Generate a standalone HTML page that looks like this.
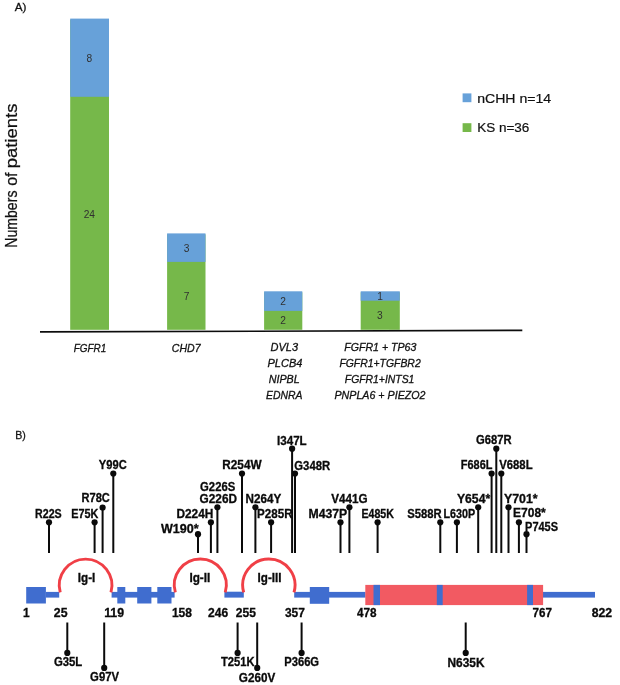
<!DOCTYPE html>
<html><head><meta charset="utf-8"><title>Figure</title>
<style>
html,body{margin:0;padding:0;background:#fff;}
body{width:620px;height:685px;overflow:hidden;font-family:"Liberation Sans",sans-serif;}
svg{display:block;will-change:transform;filter:blur(0.45px);}
text{font-family:"Liberation Sans",sans-serif;}
.b{font-weight:bold;font-size:11.9px;fill:#0a0a0a;stroke:#0a0a0a;stroke-width:0.3px;}
.i{font-style:italic;font-size:11.4px;fill:#111;stroke:#111;stroke-width:0.3px;}
.n{font-size:10.2px;fill:#303030;}
</style></head><body>
<svg width="620" height="685" viewBox="0 0 620 685">
<rect width="620" height="685" fill="#fff"/>

<text class="" x="14.8" y="10.7" textLength="11.7" lengthAdjust="spacingAndGlyphs" font-size="11.5" fill="#111" stroke="#111" stroke-width="0.3">A)</text>
<rect x="70.2" y="19.6" width="38.8" height="310.2" fill="#76b84a"/>
<rect x="70.2" y="18.6" width="38.8" height="78.2" fill="#67a1d9"/>
<rect x="167.1" y="234.4" width="38.4" height="95.4" fill="#76b84a"/>
<rect x="167.1" y="233.4" width="38.4" height="28.5" fill="#67a1d9"/>
<rect x="264.1" y="292.3" width="38.2" height="37.5" fill="#76b84a"/>
<rect x="264.1" y="291.3" width="38.2" height="19.6" fill="#67a1d9"/>
<rect x="360.7" y="292.3" width="39.1" height="37.5" fill="#76b84a"/>
<rect x="360.7" y="291.3" width="39.1" height="9.4" fill="#67a1d9"/>
<line x1="40" y1="331.9" x2="522.3" y2="330.4" stroke="#0c0c0c" stroke-width="1.7"/>
<text class="n" x="89.4" y="61.9" text-anchor="middle">8</text>
<text class="n" x="89.3" y="217.6" text-anchor="middle">24</text>
<text class="n" x="186.5" y="252" text-anchor="middle">3</text>
<text class="n" x="186.5" y="299.8" text-anchor="middle">7</text>
<text class="n" x="283.1" y="304.8" text-anchor="middle">2</text>
<text class="n" x="283.1" y="324.2" text-anchor="middle">2</text>
<text class="n" x="380.1" y="299.5" text-anchor="middle">1</text>
<text class="n" x="379.9" y="319.1" text-anchor="middle">3</text>
<text transform="translate(17.4,247.8) rotate(-90)" font-size="15.6" fill="#111" stroke="#111" stroke-width="0.25" textLength="57.3" lengthAdjust="spacingAndGlyphs">Numbers</text>
<text transform="translate(17.4,185.8) rotate(-90)" font-size="15.6" fill="#111" stroke="#111" stroke-width="0.25" textLength="13.3" lengthAdjust="spacingAndGlyphs">of</text>
<text transform="translate(17.4,168.3) rotate(-90)" font-size="15.6" fill="#111" stroke="#111" stroke-width="0.25" textLength="64.8" lengthAdjust="spacingAndGlyphs">patients</text>
<rect x="462.6" y="93.4" width="8.8" height="8.8" fill="#67a1d9"/>
<rect x="462.6" y="123.2" width="8.8" height="8.8" fill="#76b84a"/>
<text class="" x="477.2" y="102.5" textLength="74.0" lengthAdjust="spacingAndGlyphs" font-size="13.2" fill="#111" stroke="#111" stroke-width="0.2">nCHH n=14</text>
<text class="" x="477.2" y="132.2" textLength="52.2" lengthAdjust="spacingAndGlyphs" font-size="13.2" fill="#111" stroke="#111" stroke-width="0.2">KS n=36</text>
<text class="i" x="73.7" y="351.5" textLength="32.6" lengthAdjust="spacingAndGlyphs">FGFR1</text>
<text class="i" x="171.8" y="351.5" textLength="28.7" lengthAdjust="spacingAndGlyphs">CHD7</text>
<text class="i" x="270.6" y="351.3" textLength="27.5" lengthAdjust="spacingAndGlyphs">DVL3</text>
<text class="i" x="267.5" y="366.9" textLength="34.9" lengthAdjust="spacingAndGlyphs">PLCB4</text>
<text class="i" x="268.7" y="382.7" textLength="31.0" lengthAdjust="spacingAndGlyphs">NIPBL</text>
<text class="i" x="266.0" y="398.6" textLength="36.4" lengthAdjust="spacingAndGlyphs">EDNRA</text>
<text class="i" x="344.2" y="351.2" textLength="72.2" lengthAdjust="spacingAndGlyphs">FGFR1 + TP63</text>
<text class="i" x="339.4" y="366.9" textLength="81.3" lengthAdjust="spacingAndGlyphs">FGFR1+TGFBR2</text>
<text class="i" x="344.8" y="382.8" textLength="69.6" lengthAdjust="spacingAndGlyphs">FGFR1+INTS1</text>
<text class="i" x="334.5" y="398.8" textLength="91.0" lengthAdjust="spacingAndGlyphs">PNPLA6 + PIEZO2</text>
<text class="" x="15.2" y="439.4" textLength="10.6" lengthAdjust="spacingAndGlyphs" font-size="11.5" fill="#111" stroke="#111" stroke-width="0.3">B)</text>
<rect x="26.2" y="587.0" width="19.7" height="16.5" fill="#406dcf"/>
<rect x="45.9" y="591.9" width="13.3" height="5.7" fill="#406dcf"/>
<rect x="111.6" y="591.9" width="63.0" height="5.7" fill="#406dcf"/>
<rect x="117.3" y="587.0" width="8.0" height="16.5" fill="#406dcf"/>
<rect x="137.2" y="587.0" width="14.2" height="16.5" fill="#406dcf"/>
<rect x="157.3" y="587.0" width="14.2" height="16.5" fill="#406dcf"/>
<rect x="224.4" y="591.6999999999999" width="19.4" height="5.9" fill="#406dcf"/>
<rect x="294.2" y="591.9" width="71.3" height="5.7" fill="#406dcf"/>
<rect x="309.8" y="587.0" width="19.4" height="16.8" fill="#406dcf"/>
<rect x="543" y="591.9" width="52.0" height="5.7" fill="#406dcf"/>
<rect x="365.3" y="584.9" width="177.8" height="20.2" fill="#f25a62"/>
<rect x="373.5" y="584.9" width="6.5" height="20.2" fill="#406dcf"/>
<rect x="436.8" y="584.9" width="5.9" height="20.2" fill="#406dcf"/>
<rect x="527.1" y="584.9" width="5.9" height="20.2" fill="#406dcf"/>
<path d="M60.22,592.3 A26.3,26.3 0 1 1 110.98,592.3" fill="none" stroke="#f03f46" stroke-width="2.9"/>
<path d="M175.35,592.3 A26.0,26.0 0 1 1 225.25,592.3" fill="none" stroke="#f03f46" stroke-width="2.9"/>
<path d="M243.70,592.3 A26.15,26.15 0 1 1 294.00,592.3" fill="none" stroke="#f03f46" stroke-width="2.9"/>
<text class="b" x="77.8" y="581.5" textLength="17.5" lengthAdjust="spacingAndGlyphs">Ig-I</text>
<text class="b" x="189.4" y="581.5" textLength="20.9" lengthAdjust="spacingAndGlyphs">Ig-II</text>
<text class="b" x="257.6" y="581.5" textLength="23.9" lengthAdjust="spacingAndGlyphs">Ig-III</text>
<text class="b" x="26.4" y="616.9" text-anchor="middle">1</text>
<text class="b" x="53.8" y="616.9" textLength="13.7" lengthAdjust="spacingAndGlyphs">25</text>
<text class="b" x="104.2" y="616.9" textLength="19.9" lengthAdjust="spacingAndGlyphs">119</text>
<text class="b" x="171.9" y="616.9" textLength="20.1" lengthAdjust="spacingAndGlyphs">158</text>
<text class="b" x="208.0" y="616.9" textLength="20.1" lengthAdjust="spacingAndGlyphs">246</text>
<text class="b" x="235.8" y="616.9" textLength="20.1" lengthAdjust="spacingAndGlyphs">255</text>
<text class="b" x="284.9" y="616.9" textLength="19.9" lengthAdjust="spacingAndGlyphs">357</text>
<text class="b" x="356.9" y="616.9" textLength="19.6" lengthAdjust="spacingAndGlyphs">478</text>
<text class="b" x="532.6" y="616.9" textLength="19.4" lengthAdjust="spacingAndGlyphs">767</text>
<text class="b" x="591.7" y="616.9" textLength="20.4" lengthAdjust="spacingAndGlyphs">822</text>
<line x1="49.0" y1="522.3" x2="49.0" y2="553" stroke="#0a0a0a" stroke-width="2.0"/>
<circle cx="49.0" cy="522.3" r="3.1" fill="#0a0a0a"/>
<line x1="94.6" y1="522.3" x2="94.6" y2="553" stroke="#0a0a0a" stroke-width="2.0"/>
<circle cx="94.6" cy="522.3" r="3.1" fill="#0a0a0a"/>
<line x1="102.6" y1="507.5" x2="102.6" y2="553" stroke="#0a0a0a" stroke-width="2.0"/>
<circle cx="102.6" cy="507.5" r="3.1" fill="#0a0a0a"/>
<line x1="113.3" y1="473.5" x2="113.3" y2="553" stroke="#0a0a0a" stroke-width="2.0"/>
<circle cx="113.3" cy="473.5" r="3.1" fill="#0a0a0a"/>
<line x1="198.0" y1="534.2" x2="198.0" y2="553" stroke="#0a0a0a" stroke-width="2.0"/>
<circle cx="198.0" cy="534.2" r="3.1" fill="#0a0a0a"/>
<line x1="210.9" y1="522.3" x2="210.9" y2="553" stroke="#0a0a0a" stroke-width="2.0"/>
<circle cx="210.9" cy="522.3" r="3.1" fill="#0a0a0a"/>
<line x1="217.4" y1="507.3" x2="217.4" y2="553" stroke="#0a0a0a" stroke-width="2.0"/>
<circle cx="217.4" cy="507.3" r="3.1" fill="#0a0a0a"/>
<line x1="242.0" y1="473.5" x2="242.0" y2="553" stroke="#0a0a0a" stroke-width="2.0"/>
<circle cx="242.0" cy="473.5" r="3.1" fill="#0a0a0a"/>
<line x1="255.4" y1="507.3" x2="255.4" y2="553" stroke="#0a0a0a" stroke-width="2.0"/>
<circle cx="255.4" cy="507.3" r="3.1" fill="#0a0a0a"/>
<line x1="271.1" y1="522.3" x2="271.1" y2="553" stroke="#0a0a0a" stroke-width="2.0"/>
<circle cx="271.1" cy="522.3" r="3.1" fill="#0a0a0a"/>
<line x1="292.1" y1="448.7" x2="292.1" y2="553" stroke="#0a0a0a" stroke-width="2.0"/>
<circle cx="292.1" cy="448.7" r="3.1" fill="#0a0a0a"/>
<line x1="295.0" y1="473.5" x2="295.0" y2="553" stroke="#0a0a0a" stroke-width="2.0"/>
<circle cx="295.0" cy="473.5" r="3.1" fill="#0a0a0a"/>
<line x1="340.5" y1="522.3" x2="340.5" y2="553" stroke="#0a0a0a" stroke-width="2.0"/>
<circle cx="340.5" cy="522.3" r="3.1" fill="#0a0a0a"/>
<line x1="349.4" y1="507.3" x2="349.4" y2="553" stroke="#0a0a0a" stroke-width="2.0"/>
<circle cx="349.4" cy="507.3" r="3.1" fill="#0a0a0a"/>
<line x1="377.6" y1="522.3" x2="377.6" y2="553" stroke="#0a0a0a" stroke-width="2.0"/>
<circle cx="377.6" cy="522.3" r="3.1" fill="#0a0a0a"/>
<line x1="440.3" y1="522.3" x2="440.3" y2="553" stroke="#0a0a0a" stroke-width="2.0"/>
<circle cx="440.3" cy="522.3" r="3.1" fill="#0a0a0a"/>
<line x1="456.9" y1="522.3" x2="456.9" y2="553" stroke="#0a0a0a" stroke-width="2.0"/>
<circle cx="456.9" cy="522.3" r="3.1" fill="#0a0a0a"/>
<line x1="478.2" y1="507.3" x2="478.2" y2="553" stroke="#0a0a0a" stroke-width="2.0"/>
<circle cx="478.2" cy="507.3" r="3.1" fill="#0a0a0a"/>
<line x1="491.6" y1="473.5" x2="491.6" y2="553" stroke="#0a0a0a" stroke-width="2.0"/>
<circle cx="491.6" cy="473.5" r="3.1" fill="#0a0a0a"/>
<line x1="496.3" y1="448.7" x2="496.3" y2="553" stroke="#0a0a0a" stroke-width="2.0"/>
<circle cx="496.3" cy="448.7" r="3.1" fill="#0a0a0a"/>
<line x1="501.3" y1="473.5" x2="501.3" y2="553" stroke="#0a0a0a" stroke-width="2.0"/>
<circle cx="501.3" cy="473.5" r="3.1" fill="#0a0a0a"/>
<line x1="508.5" y1="507.3" x2="508.5" y2="553" stroke="#0a0a0a" stroke-width="2.0"/>
<circle cx="508.5" cy="507.3" r="3.1" fill="#0a0a0a"/>
<line x1="518.9" y1="522.3" x2="518.9" y2="553" stroke="#0a0a0a" stroke-width="2.0"/>
<circle cx="518.9" cy="522.3" r="3.1" fill="#0a0a0a"/>
<line x1="526.5" y1="534.2" x2="526.5" y2="553" stroke="#0a0a0a" stroke-width="2.0"/>
<circle cx="526.5" cy="534.2" r="3.1" fill="#0a0a0a"/>
<text class="b" x="35.1" y="517.5" textLength="26.6" lengthAdjust="spacingAndGlyphs">R22S</text>
<text class="b" x="71.2" y="517.5" textLength="27.1" lengthAdjust="spacingAndGlyphs">E75K</text>
<text class="b" x="81.5" y="501.7" textLength="28.4" lengthAdjust="spacingAndGlyphs">R78C</text>
<text class="b" x="98.8" y="468.7" textLength="27.9" lengthAdjust="spacingAndGlyphs">Y99C</text>
<text class="b" x="160.9" y="532.6" textLength="37.7" lengthAdjust="spacingAndGlyphs">W190*</text>
<text class="b" x="176.4" y="518.1" textLength="36.9" lengthAdjust="spacingAndGlyphs">D224H</text>
<text class="b" x="199.6" y="502.9" textLength="37.4" lengthAdjust="spacingAndGlyphs">G226D</text>
<text class="b" x="200.1" y="490.8" textLength="35.1" lengthAdjust="spacingAndGlyphs">G226S</text>
<text class="b" x="222.3" y="468.9" textLength="39.3" lengthAdjust="spacingAndGlyphs">R254W</text>
<text class="b" x="245.5" y="502.9" textLength="35.7" lengthAdjust="spacingAndGlyphs">N264Y</text>
<text class="b" x="257.1" y="518.3" textLength="35.4" lengthAdjust="spacingAndGlyphs">P285R</text>
<text class="b" x="277.0" y="445.0" textLength="29.7" lengthAdjust="spacingAndGlyphs">I347L</text>
<text class="b" x="294.3" y="470.4" textLength="35.9" lengthAdjust="spacingAndGlyphs">G348R</text>
<text class="b" x="308.5" y="518.3" textLength="38.7" lengthAdjust="spacingAndGlyphs">M437P</text>
<text class="b" x="331.2" y="502.9" textLength="36.4" lengthAdjust="spacingAndGlyphs">V441G</text>
<text class="b" x="361.4" y="517.9" textLength="32.5" lengthAdjust="spacingAndGlyphs">E485K</text>
<text class="b" x="407.3" y="517.9" textLength="34.4" lengthAdjust="spacingAndGlyphs">S588R</text>
<text class="b" x="443.5" y="517.9" textLength="31.7" lengthAdjust="spacingAndGlyphs">L630P</text>
<text class="b" x="456.9" y="502.8" textLength="33.3" lengthAdjust="spacingAndGlyphs">Y654*</text>
<text class="b" x="460.8" y="468.8" textLength="31.6" lengthAdjust="spacingAndGlyphs">F686L</text>
<text class="b" x="476.1" y="443.9" textLength="35.6" lengthAdjust="spacingAndGlyphs">G687R</text>
<text class="b" x="499.2" y="468.8" textLength="33.4" lengthAdjust="spacingAndGlyphs">V688L</text>
<text class="b" x="503.9" y="502.8" textLength="33.7" lengthAdjust="spacingAndGlyphs">Y701*</text>
<text class="b" x="513.1" y="516.9" textLength="32.7" lengthAdjust="spacingAndGlyphs">E708*</text>
<text class="b" x="525.1" y="530.6" textLength="32.9" lengthAdjust="spacingAndGlyphs">P745S</text>
<line x1="67.3" y1="622.5" x2="67.3" y2="652.9" stroke="#0a0a0a" stroke-width="2.0"/>
<circle cx="67.3" cy="652.9" r="3.1" fill="#0a0a0a"/>
<line x1="104.2" y1="622.5" x2="104.2" y2="667.9" stroke="#0a0a0a" stroke-width="2.0"/>
<circle cx="104.2" cy="667.9" r="3.1" fill="#0a0a0a"/>
<line x1="237.6" y1="622.5" x2="237.6" y2="652.9" stroke="#0a0a0a" stroke-width="2.0"/>
<circle cx="237.6" cy="652.9" r="3.1" fill="#0a0a0a"/>
<line x1="257.2" y1="622.5" x2="257.2" y2="667.9" stroke="#0a0a0a" stroke-width="2.0"/>
<circle cx="257.2" cy="667.9" r="3.1" fill="#0a0a0a"/>
<line x1="301.6" y1="622.5" x2="301.6" y2="652.9" stroke="#0a0a0a" stroke-width="2.0"/>
<circle cx="301.6" cy="652.9" r="3.1" fill="#0a0a0a"/>
<line x1="465.7" y1="622.5" x2="465.7" y2="652.9" stroke="#0a0a0a" stroke-width="2.0"/>
<circle cx="465.7" cy="652.9" r="3.1" fill="#0a0a0a"/>
<text class="b" x="53.9" y="665.9" textLength="28.4" lengthAdjust="spacingAndGlyphs">G35L</text>
<text class="b" x="90.1" y="680.5" textLength="28.9" lengthAdjust="spacingAndGlyphs">G97V</text>
<text class="b" x="221.0" y="666.2" textLength="33.6" lengthAdjust="spacingAndGlyphs">T251K</text>
<text class="b" x="238.8" y="681.6" textLength="36.4" lengthAdjust="spacingAndGlyphs">G260V</text>
<text class="b" x="284.2" y="666.4" textLength="34.9" lengthAdjust="spacingAndGlyphs">P366G</text>
<text class="b" x="447.4" y="666.7" textLength="37.1" lengthAdjust="spacingAndGlyphs">N635K</text>
</svg></body></html>
